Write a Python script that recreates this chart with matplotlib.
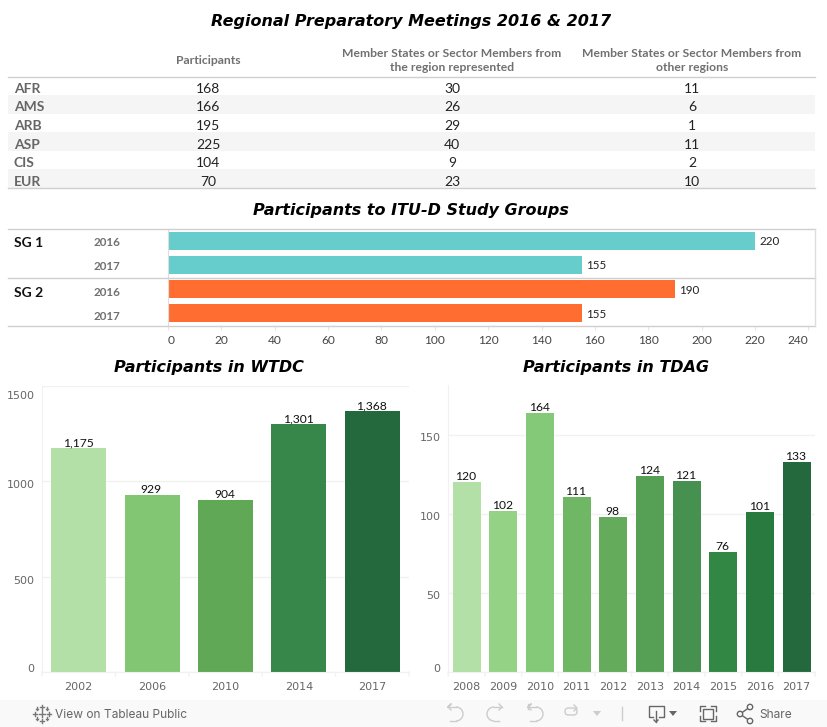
import matplotlib
matplotlib.use("Agg")
import matplotlib.pyplot as plt
from matplotlib.patches import Rectangle, Arc, Circle, Polygon, FancyBboxPatch

W, H = 827, 727

# top table
regions = ["AFR", "AMS", "ARB", "ASP", "CIS", "EUR"]
participants = [168, 166, 195, 225, 104, 70]
from_region = [30, 26, 29, 40, 9, 23]
other_regions = [11, 6, 1, 11, 2, 10]

# study groups
sg_names = ["SG 1", "SG 2"]
sg_years = ["2016", "2017", "2016", "2017"]
sg_values = [220, 155, 190, 155]
sg_colors = ["#66cdcc", "#66cdcc", "#ff6d31", "#ff6d31"]

# WTDC
wtdc_years = ["2002", "2006", "2010", "2014", "2017"]
wtdc_values = [1175, 929, 904, 1301, 1368]
wtdc_colors = ["#b3e0a6", "#82c674", "#60a756", "#37874a", "#24693d"]

# TDAG
tdag_years = ["2008", "2009", "2010", "2011", "2012", "2013", "2014", "2015", "2016", "2017"]
tdag_values = [120, 102, 164, 111, 98, 124, 121, 76, 101, 133]
tdag_colors = ["#b3e0a6", "#94d385", "#84c978", "#6fb765", "#64ab5b",
               "#55a054", "#479150", "#338745", "#297a3f", "#24693d"]

TITLE = dict(family="DejaVu Sans", weight="bold", style="oblique", color="black",
             ha="center", va="center", fontsize=11.55)
BODY = "Lato"
TICK = "DejaVu Sans"
GRID = "#f1f1f1"
LINE = "#cfcfcf"


def px_axes(x0, y0, x1, y1, **kw):
    # rectangle given in picture pixels, y going down
    return fig.add_axes([x0 / W, 1 - y1 / H, (x1 - x0) / W, (y1 - y0) / H], **kw)


fig = plt.figure(figsize=(W / 100, H / 100), dpi=100, facecolor="white")

# overlay in pixel coordinates for titles, rules and the toolbar
ov = px_axes(0, 0, W, H)
ov.set_xlim(0, W)
ov.set_ylim(H, 0)
ov.axis("off")
ov.set_zorder(5)
ov.patch.set_alpha(0)

ov.text(411, 21.5, "Regional Preparatory Meetings 2016 & 2017", **TITLE)
ov.text(411, 210.5, "Participants to ITU-D Study Groups", **TITLE)
ov.text(209, 367.5, "Participants in WTDC", **TITLE)
ov.text(616, 367.5, "Participants in TDAG", **TITLE)

# ---- table
ax = px_axes(8, 76.5, 815, 188)
ax.set_xlim(8, 815)
ax.set_ylim(6, 0)
ax.axis("off")
for i, r in enumerate(regions):
    if i % 2 == 1:
        ax.axhspan(i, i + 1, color="#f5f5f5", lw=0)
    ax.annotate(r, (14, i + 0.5), xytext=(0, -2.2), textcoords="offset points", family=BODY,
                weight="bold", fontsize=10, color="#666666", va="center")
    for x, col in zip([208, 452, 692], [participants, from_region, other_regions]):
        ax.annotate(str(col[i]), (x, i + 0.5), xytext=(0, -2.2), textcoords="offset points",
                    family=BODY, fontsize=10, color="#222222", ha="center", va="center")
ov.plot([8, 815], [76.5, 76.5], color=LINE, lw=1)
ov.plot([8, 815], [188, 188], color=LINE, lw=1)
hdr = dict(family=BODY, weight="bold", fontsize=8.7, color="#707070", ha="center", va="center",
           linespacing=1.25)
ov.text(208, 60, "Participants", **hdr)
ov.text(452, 60.5, "Member States or Sector Members from\nthe region represented", **hdr)
ov.text(692, 60.5, "Member States or Sector Members from\nother regions", **hdr)

# ---- study groups
ax = px_axes(168, 228.5, 815, 325.5)
ys = range(len(sg_values))
ax.barh(ys, sg_values, height=0.74, color=sg_colors)
ax.set_ylim(3.5, -0.5)
ax.set_xlim(0, 242.5)
ax.set_yticks([])
ax.set_xticks(range(0, 241, 20))
ax.tick_params(axis="x", length=3, color="#e6e6e6", labelsize=8.6, labelcolor="#444444", pad=4)
for lab in ax.get_xticklabels():
    lab.set_family(BODY)
ax.get_xticklabels()[0].set_ha("left")
ax.get_xticklabels()[-1].set_ha("right")
for s in ["top", "bottom", "right"]:
    ax.spines[s].set_visible(False)
ax.spines["left"].set_color("#dddddd")
for y, v in zip(ys, sg_values):
    ax.annotate(str(v), (v, y), xytext=(3, -0.7), textcoords="offset points", family=BODY,
                fontsize=8.4, color="#222222", va="center")
for y in [228.5, 277.5, 325.5]:
    ov.plot([8, 815], [y, y], color=LINE, lw=1)
ov.plot([815, 815], [228.5, 325.5], color="#dddddd", lw=1)
for name, y in zip(sg_names, [243, 293]):
    ov.text(14, y, name, family=BODY, weight="bold", fontsize=10, color="#111111", va="center")
for yr, y in zip(sg_years, [242.5, 267, 292, 316]):
    ov.text(94, y, yr, family=BODY, weight="bold", fontsize=8.4, color="#707070", va="center")


def columns(ax, years, values, colors, ticks, top, nudge, width):
    xs = range(len(values))
    ax.bar(xs, values, width=width, color=colors, zorder=2)
    ax.set_xlim(-0.5, len(values) - 0.5)
    ax.set_ylim(0, top)
    ax.set_xticks(xs, years)
    ax.set_yticks(ticks, [])
    ax.grid(axis="y", color=GRID, lw=1, zorder=0)
    ax.tick_params(axis="both", length=0)
    ax.tick_params(axis="x", labelsize=8, labelcolor="#666666", pad=7.5)
    for s in ["top", "right"]:
        ax.spines[s].set_visible(False)
    ax.spines["left"].set_color(GRID)
    ax.spines["bottom"].set_color(GRID)
    # little separators under the axis
    for k in range(len(values) + 1):
        ax.annotate("", (k - 0.5, 0), xytext=(k - 0.5, -3), textcoords=("data", "offset points"),
                    arrowprops=dict(arrowstyle="-", color=GRID, lw=1, shrinkA=0, shrinkB=0),
                    annotation_clip=False)
    # the y labels sit off their gridlines in the original, so nudge each one
    for t, dy in zip(ticks, nudge):
        ax.annotate(str(t), (-0.5, t), xytext=(-5.5, dy), textcoords="offset points", ha="right",
                    va="center", family=TICK, fontsize=8, color="#666666", annotation_clip=False)
    for x, v in zip(xs, values):
        ax.annotate(f"{v:,}", (x, v), xytext=(-0.5, 1.4), textcoords="offset points", ha="center",
                    va="baseline", family=BODY, fontsize=8.7, color="#111111", zorder=3)


ax = px_axes(42, 386, 409, 672)
columns(ax, wtdc_years, wtdc_values, wtdc_colors, [0, 500, 1000, 1500], 1497, [2.3, -3.4, -2.9, -7.2], 0.75)

ax = px_axes(448.3, 385, 815, 672)
columns(ax, tdag_years, tdag_values, tdag_colors, [0, 50, 100, 150], 181.6, [2.3, -2.4, -2.2, -2], 0.76)

# ---- toolbar
ov.add_patch(Rectangle((0, 700), W, 27, color="#f9f9f9", lw=0))
ov.text(55, 714.5, "View on Tableau Public", family="Inter", fontsize=8.6, color="#666666", va="center")
ov.text(759, 714.5, "Share", family="Inter", fontsize=8.6, color="#666666", va="center")

# tableau logo, made of small plus signs
for cx, cy, s in [(42, 713.5, 3.2), (42, 706.5, 2), (42, 720.5, 2), (35, 713.5, 2), (49, 713.5, 2),
                  (37, 708.5, 1.4), (47, 708.5, 1.4), (37, 718.5, 1.4), (47, 718.5, 1.4)]:
    ov.plot([cx - s, cx + s], [cy, cy], color="#777777", lw=1)
    ov.plot([cx, cx], [cy - s, cy + s], color="#777777", lw=1)

g = "#cccccc"
d = "#666666"
# undo, redo, revert, refresh
for cx in [456, 536]:
    ov.add_patch(Arc((cx, 714), 14, 14, theta1=-90, theta2=90, color=g, lw=1))
    ov.plot([cx - 8, cx], [707, 707], color=g, lw=1)
    ov.plot([cx - 6, cx], [721, 721], color=g, lw=1)
    ov.plot([cx - 8, cx - 5, cx - 8, cx - 5], [707, 704, 707, 710], color=g, lw=1)
ov.add_patch(Arc((494, 714), 14, 14, theta1=90, theta2=270, color=g, lw=1))
ov.plot([494, 502], [707, 707], color=g, lw=1)
ov.plot([494, 499], [721, 721], color=g, lw=1)
ov.plot([499, 502, 499], [704, 707, 710], color=g, lw=1)
ov.plot([527.5, 527.5], [704, 709], color=g, lw=1)
ov.add_patch(FancyBboxPatch((565, 708), 12, 7, boxstyle="round,pad=0,rounding_size=3.5", fill=False, ec=g, lw=1))
ov.plot([574, 577, 574], [705, 708, 711], color=g, lw=1)
ov.add_patch(Polygon([[593, 711], [601, 711], [597, 716]], color=g, lw=0))
ov.plot([622, 622], [707, 720], color=g, lw=1)
ov.plot([653, 649, 649, 664, 664, 659], [717, 717, 706, 706, 717, 717], color=d, lw=1)
ov.plot([656, 656], [711, 722], color=d, lw=1)
ov.plot([654, 656, 658], [720, 722, 720], color=d, lw=1)
ov.add_patch(Polygon([[669, 711], [677, 711], [673, 716]], color=d, lw=0))
ov.add_patch(Rectangle((703, 708.5), 10, 10, fill=False, ec=d, lw=1))
for xs_, ys_ in [([700, 700, 705], [711, 706, 706]), ([711, 716, 716], [706, 706, 711]),
                 ([700, 700, 705], [716, 721, 721]), ([711, 716, 716], [721, 721, 716])]:
    ov.plot(xs_, ys_, color=d, lw=1)
ov.plot([740, 750], [714, 707], color=d, lw=1)
ov.plot([740, 750], [714, 721], color=d, lw=1)
for cx, cy, r in [(740, 714, 2.7), (750, 707, 2.7), (750, 721, 2.7)]:
    ov.add_patch(Circle((cx, cy), r, fc="#f9f9f9", ec=d, lw=1, zorder=6))

fig.savefig("out.png", dpi=100)
